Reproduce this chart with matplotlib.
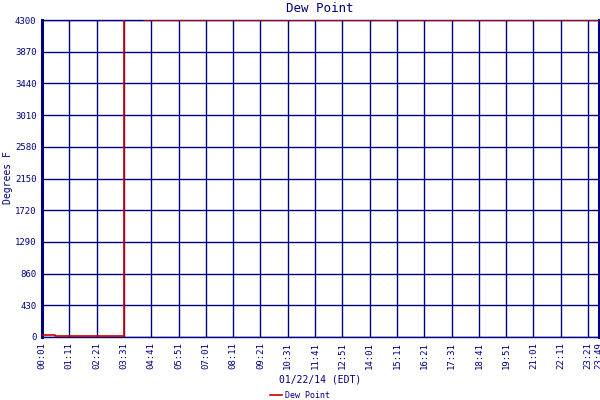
import matplotlib
matplotlib.use("Agg")
import matplotlib.pyplot as plt

# minutes after 00:01 and dew point reading (F)
minutos = [0, 33, 34, 209, 210, 260, 261, 1428]
dew_point = [30, 30, 12, 12, 4320, 4320, 4300, 4300]

tick_min = [0, 70, 140, 210, 280, 350, 420, 490, 560, 630, 700, 770, 840,
            910, 980, 1050, 1120, 1190, 1260, 1330, 1400, 1428]
tick_lbl = ["00:01", "01:11", "02:21", "03:31", "04:41", "05:51", "07:01",
            "08:11", "09:21", "10:31", "11:41", "12:51", "14:01", "15:11",
            "16:21", "17:31", "18:41", "19:51", "21:01", "22:11", "23:21",
            "23:49"]
y_ticks = [0, 430, 860, 1290, 1720, 2150, 2580, 3010, 3440, 3870, 4300]

azul = "#000080"
vermelho = "#cc0000"
fonte = "DejaVu Sans Mono"

fig = plt.figure(figsize=(6, 4), dpi=100)
ax = fig.add_axes([42 / 600, 1 - 337 / 400, 557 / 600, 317 / 400])

ax.plot(minutos, dew_point, color=vermelho, lw=1.2, drawstyle="steps-post",
        zorder=3, label="Dew Point")

ax.set_xlim(0, 1428)
ax.set_ylim(0, 4300)
ax.set_xticks(tick_min)
ax.set_xticklabels(tick_lbl, rotation=90, fontsize=6.5, family=fonte,
                   color=azul)
ax.set_yticks(y_ticks)
ax.set_yticklabels([str(v) for v in y_ticks], fontsize=6.5, family=fonte,
                   color=azul)
ax.tick_params(length=0, pad=4)
ax.grid(True, color=azul, lw=1)

for lado in ["top", "bottom"]:
    ax.spines[lado].set_color(azul)
    ax.spines[lado].set_linewidth(1)
for lado in ["left", "right"]:
    ax.spines[lado].set_color(azul)
    ax.spines[lado].set_linewidth(2.2)

fig.text(320 / 600, 1 - 8 / 400, "Dew Point", ha="center", va="center",
         fontsize=9, family=fonte, color=azul)
fig.text(8 / 600, 1 - 178 / 400, "Degrees F", ha="center", va="center",
         rotation=90, fontsize=7, family=fonte, color=azul)
fig.text(320 / 600, 1 - 380 / 400, "01/22/14 (EDT)", ha="center",
         va="center", fontsize=7, family=fonte, color=azul)

fig.legend(loc="center", bbox_to_anchor=(300 / 600, 1 - 395 / 400),
           frameon=False, prop={"family": fonte, "size": 6},
           handlelength=1.5, handletextpad=0.4, labelcolor=azul)

fig.savefig("out.png", dpi=100)
